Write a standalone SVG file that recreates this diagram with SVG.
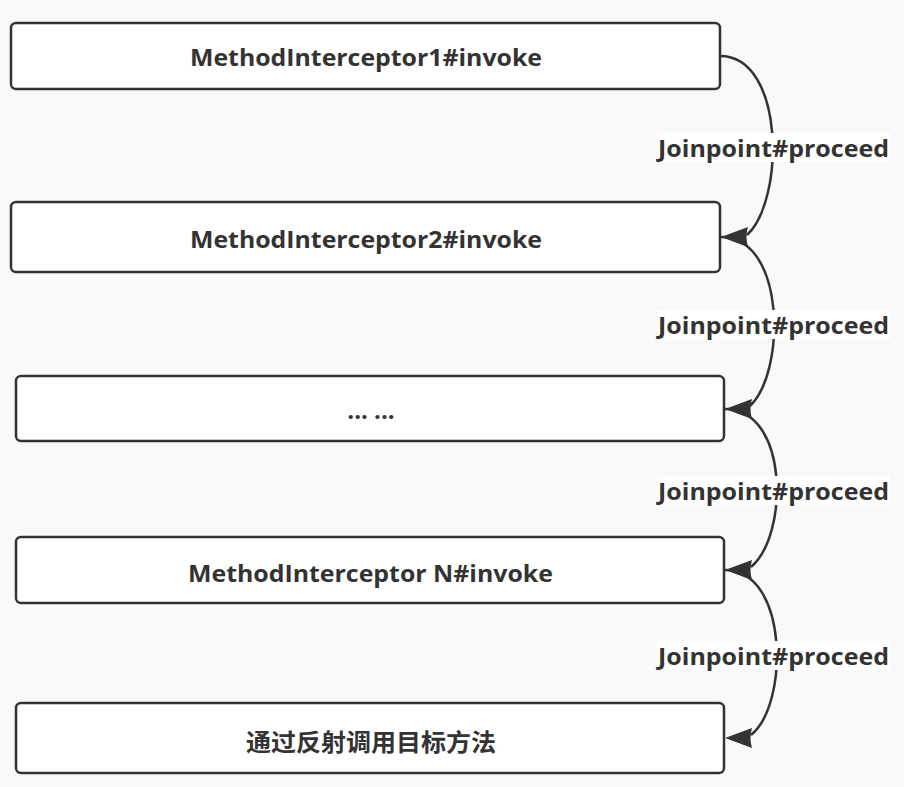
<svg xmlns="http://www.w3.org/2000/svg" xmlns:xlink="http://www.w3.org/1999/xlink" width="911" height="787" viewBox="0 0 911 787">
  <style>
    .box { fill: #ffffff; stroke: #333333; stroke-width: 2.5; }
    .t { font-family: "Open Sans", "Noto Sans", "Liberation Sans", sans-serif; font-weight: bold; font-size: 24px; fill: #333333; text-anchor: middle; dominant-baseline: central; }
    .cjk { font-family: "Noto Sans CJK SC", "Noto Sans", sans-serif; font-weight: bold; font-size: 24px; fill: #333333; text-anchor: middle; dominant-baseline: central; }
    .conn { fill: none; stroke: #333333; stroke-width: 2.5; }
    .lblbg { fill: #ffffff; }
    .ah { fill: #333333; }
  </style>
  <defs>
    <path id="arrowhead" class="ah" d="M0,0 L27,-10 Q24,0 27,10 Z"/>
  </defs>
  <rect x="0" y="0" width="911" height="787" fill="#ffffff"/>
  <rect x="0" y="0" width="904" height="787" fill="#f9f9f9"/>

  <g id="connectors">
    <path class="conn" d="M720,56 C785,56 785,200 747,235"/>
    <use xlink:href="#arrowhead" x="721" y="237"/>
    <path class="conn" d="M721,237 C786,237 786,372 750,406"/>
    <use xlink:href="#arrowhead" x="725" y="409"/>
    <path class="conn" d="M725,409 C789,409 789,535 751,567"/>
    <use xlink:href="#arrowhead" x="725" y="570"/>
    <path class="conn" d="M725,570 C789,570 789,705 751,735"/>
    <use xlink:href="#arrowhead" x="725" y="738"/>

    <g id="label1">
      <rect class="lblbg" x="657" y="133" width="233" height="29"/>
      <text class="t" x="773.5" y="147" textLength="231" lengthAdjust="spacingAndGlyphs">Joinpoint#proceed</text>
    </g>
    <g id="label2">
      <rect class="lblbg" x="657" y="310" width="233" height="29"/>
      <text class="t" x="773.5" y="324" textLength="231" lengthAdjust="spacingAndGlyphs">Joinpoint#proceed</text>
    </g>
    <g id="label3">
      <rect class="lblbg" x="657" y="476" width="233" height="29"/>
      <text class="t" x="773.5" y="490" textLength="231" lengthAdjust="spacingAndGlyphs">Joinpoint#proceed</text>
    </g>
    <g id="label4">
      <rect class="lblbg" x="657" y="641" width="233" height="29"/>
      <text class="t" x="773.5" y="655" textLength="231" lengthAdjust="spacingAndGlyphs">Joinpoint#proceed</text>
    </g>
  </g>

  <g id="node1">
    <rect class="box" x="11" y="23" width="709" height="66" rx="5" ry="5"/>
    <text class="t" x="366" y="56" textLength="352" lengthAdjust="spacingAndGlyphs">MethodInterceptor1#invoke</text>
  </g>
  <g id="node2">
    <rect class="box" x="11" y="202" width="709" height="70" rx="5" ry="5"/>
    <text class="t" x="366" y="238" textLength="352" lengthAdjust="spacingAndGlyphs">MethodInterceptor2#invoke</text>
  </g>
  <g id="node3">
    <rect class="box" x="16" y="376" width="708" height="65" rx="5" ry="5"/>
    <text class="t" x="371" y="409">... ...</text>
  </g>
  <g id="node4">
    <rect class="box" x="16" y="537" width="708" height="66" rx="5" ry="5"/>
    <text class="t" x="370.5" y="572" textLength="365" lengthAdjust="spacingAndGlyphs">MethodInterceptor N#invoke</text>
  </g>
  <g id="node5">
    <rect class="box" x="16" y="703" width="708" height="70" rx="5" ry="5"/>
    <text class="cjk" x="371" y="740" textLength="250" lengthAdjust="spacingAndGlyphs">通过反射调用目标方法</text>
  </g>
</svg>
